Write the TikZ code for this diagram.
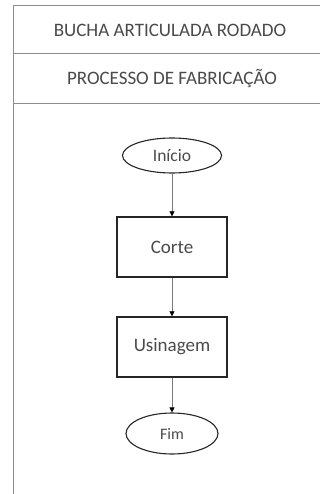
\documentclass[tikz,border=0pt]{standalone}
\usepackage{fontspec}
\setmainfont{Carlito}
\usetikzlibrary{shapes.geometric,arrows.meta}
\definecolor{framegray}{HTML}{8C8C8C}
\definecolor{textgray}{HTML}{4A4A4A}
\definecolor{edgegray}{HTML}{7A7A7A}
\begin{document}
\begin{tikzpicture}[x=1pt,y=-1pt,
  frame/.style={draw=framegray,line width=1.4pt},
  hdr/.style={text=textgray,font=\fontsize{19}{22}\selectfont,inner sep=0pt},
  terminal/.style={ellipse,draw=black!85,line width=1.1pt,inner sep=0pt,
    text=textgray,font=\fontsize{17.5}{20}\selectfont},
  stepbox/.style={rectangle,draw=black!85,line width=1.4pt,inner sep=0pt,
    minimum width=110pt,minimum height=60pt,
    text=textgray,font=\fontsize{19}{22}\selectfont},
  seta/.style={draw=edgegray,line width=0.8pt,
    -{Triangle[length=5pt,width=5pt,color=black]}}]
\useasboundingbox (0,0) rectangle (320,494);
\fill[white] (0,0) rectangle (320,494);

% header frame
\draw[frame] (320,5.5) -- (13.5,5.5) -- (13.5,494);
\draw[frame] (13.5,53.5) -- (320,53.5);
\draw[frame] (13.5,103.5) -- (320,103.5);

\node[hdr] (titulo) at (170,30) {BUCHA ARTICULADA RODADO};
\node[hdr] (processo) at (172,79) {PROCESSO DE FABRICAÇÃO};

% flow chart
\node[terminal,minimum width=99pt,minimum height=35pt] (inicio) at (172,155.5) {Início};
\node[stepbox] (corte) at (172,247) {Corte};
\node[stepbox] (usinagem) at (172,347) {Usinagem};
\node[terminal,minimum width=92pt,minimum height=41pt,
  font=\fontsize{16}{18}\selectfont] (fim) at (172,433.5) {Fim};

\draw[seta] (inicio) -- (corte);
\draw[seta] (corte) -- (usinagem);
\draw[seta] (usinagem) -- (fim);
\end{tikzpicture}
\end{document}
